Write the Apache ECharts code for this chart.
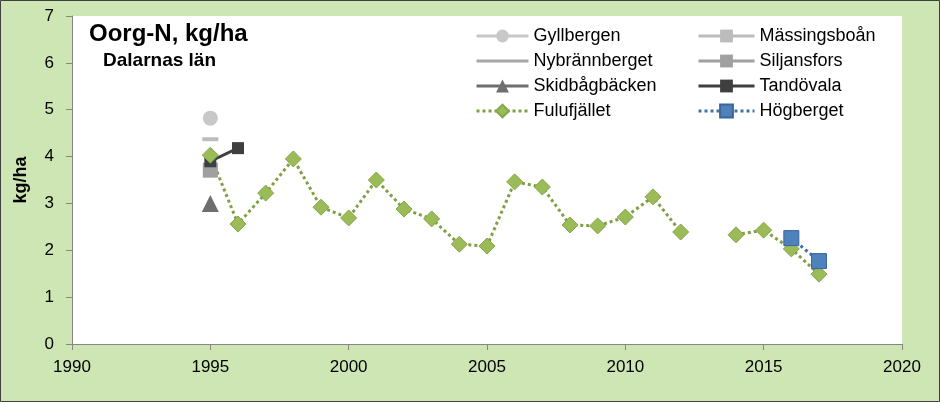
<!DOCTYPE html>
<html>
<head>
<meta charset="utf-8">
<script src="https://cdn.jsdelivr.net/npm/echarts@6/dist/echarts.min.js"></script>
<style>
html, body { margin: 0; padding: 0; }
#main { width: 940px; height: 402px; }
</style>
</head>
<body>
<div id="main"></div>
<script>
// ar 1995-2017, 2013 saknas
var years = [1995,1996,1997,1998,1999,2000,2001,2002,2003,2004,2005,2006,2007,2008,2009,2010,2011,2012,2013,2014,2015,2016,2017];
var fulufjallet = [4.03,2.56,3.22,3.95,2.92,2.69,3.50,2.88,2.67,2.13,2.09,3.46,3.35,2.54,2.52,2.71,3.14,2.39,null,2.33,2.43,2.03,1.49];
var hogbergetYears = [2016, 2017];
var hogberget = [2.26, 1.77];
var tandovalaYears = [1995, 1996];
var tandovala = [3.9, 4.18];
var gyllbergen = [4.82];
var massingsboan = [4.37];
var nybrannberget = [4.37];
var siljansfors = [3.71];
var skidbagbacken = [3.0];
var firstYear = [1995];

function pairs(xs, ys) {
    return xs.map(function (x, i) { return [x, ys[i] == null ? '-' : ys[i]]; });
}

var dom = document.getElementById('main');
var myChart = echarts.init(dom);
var font = 'Liberation Sans';
var legendText = { fontSize: 18, lineHeight: 18, color: '#000', fontFamily: font };

var option = {
    backgroundColor: '#cde6b3',
    textStyle: { fontFamily: font },
    animation: false,
    title: [
        { text: 'Oorg-N, kg/ha', left: 84, top: 17,
          textStyle: { fontSize: 24, fontWeight: 'bold', color: '#000', fontFamily: font } },
        { text: 'Dalarnas län', left: 98, top: 46,
          textStyle: { fontSize: 19, fontWeight: 'bold', color: '#000', fontFamily: font } }
    ],
    graphic: [
        { type: 'rect', shape: { x: 0.5, y: 0.5, width: 939, height: 401 },
          style: { fill: null, stroke: '#404040', lineWidth: 1 }, silent: true }
    ],
    legend: [
        { orient: 'vertical', left: 470, top: 22, itemWidth: 52, itemHeight: 16, itemGap: 7,
          textStyle: legendText, lineStyle: { width: 3 },
          data: ['Gyllbergen', 'Nybrännberget', 'Skidbågbäcken', 'Fulufjället'] },
        { orient: 'vertical', left: 692, top: 22, itemWidth: 56, itemHeight: 16, itemGap: 7,
          textStyle: legendText, lineStyle: { width: 3 },
          data: ['Mässingsboån', 'Siljansfors', 'Tandövala', 'Högberget'] }
    ],
    grid: { left: 72, right: 38, top: 16, bottom: 58, show: true, backgroundColor: '#fff', borderWidth: 0 },
    xAxis: {
        type: 'value', min: 1990, max: 2020, interval: 5,
        axisLine: { lineStyle: { color: '#868686' } },
        axisTick: { show: true, inside: false, length: 6, lineStyle: { color: '#868686' } },
        axisLabel: { fontSize: 17, color: '#000', margin: 15, fontFamily: font,
                     formatter: function (v) { return String(v); } },
        splitLine: { show: false }
    },
    yAxis: {
        type: 'value', min: 0, max: 7, interval: 1,
        name: 'kg/ha', nameLocation: 'middle', nameGap: 42,
        nameTextStyle: { fontSize: 18, fontWeight: 'bold', color: '#000', fontFamily: font },
        axisLine: { show: true, lineStyle: { color: '#868686' } },
        axisTick: { show: true, length: 6, lineStyle: { color: '#868686' } },
        axisLabel: { fontSize: 17, color: '#000', margin: 18, fontFamily: font },
        splitLine: { show: false }
    },
    series: [
        { name: 'Gyllbergen', type: 'line', data: pairs(firstYear, gyllbergen),
          symbol: 'circle', symbolSize: 15,
          lineStyle: { width: 3, color: '#c8c8c8' }, itemStyle: { color: '#c8c8c8' } },
        { name: 'Mässingsboån', type: 'line', data: pairs(firstYear, massingsboan),
          symbol: 'rect', symbolSize: [16, 4],
          lineStyle: { width: 3, color: '#bcbcbc' }, itemStyle: { color: '#bcbcbc' } },
        { name: 'Nybrännberget', type: 'line', data: pairs(firstYear, nybrannberget),
          symbol: 'rect', symbolSize: 1,
          lineStyle: { width: 3, color: '#a8a8a8' }, itemStyle: { color: 'rgba(0,0,0,0)' } },
        { name: 'Siljansfors', type: 'line', data: pairs(firstYear, siljansfors),
          symbol: 'rect', symbolSize: 15,
          lineStyle: { width: 3, color: '#a0a0a0' }, itemStyle: { color: '#a0a0a0' } },
        { name: 'Skidbågbäcken', type: 'line', data: pairs(firstYear, skidbagbacken),
          symbol: 'triangle', symbolSize: 17,
          lineStyle: { width: 3, color: '#6e6e6e' }, itemStyle: { color: '#6e6e6e' } },
        { name: 'Tandövala', type: 'line', data: pairs(tandovalaYears, tandovala),
          symbol: 'rect', symbolSize: 12,
          lineStyle: { width: 3, color: '#3f3f3f' }, itemStyle: { color: '#3f3f3f' } },
        { name: 'Fulufjället', type: 'line', data: pairs(years, fulufjallet),
          symbol: 'diamond', symbolSize: 16, connectNulls: false,
          lineStyle: { width: 3, color: '#7f9f44', type: 'dotted' },
          itemStyle: { color: '#9bbb59', borderColor: '#86a64a', borderWidth: 1 } },
        { name: 'Högberget', type: 'line', data: pairs(hogbergetYears, hogberget),
          symbol: 'rect', symbolSize: 15,
          lineStyle: { width: 3, color: '#4472a8', type: 'dotted' },
          itemStyle: { color: '#4f81bd', borderColor: '#3a6699', borderWidth: 1 } }
    ]
};

if (option && typeof option === 'object') {
    myChart.setOption(option, true);
}
</script>
</body>
</html>
